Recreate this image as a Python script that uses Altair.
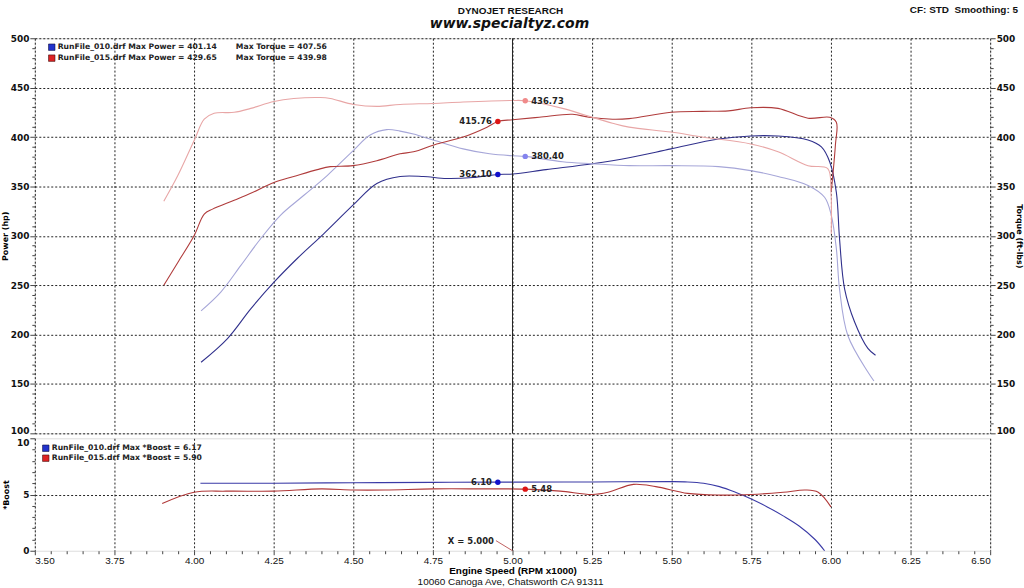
import altair as alt
import numpy as np
import pandas as pd

# ---------------- data (read from the dyno sheet) ----------------
# RunFile_010 power (hp)
p010_rpm = [4.022, 4.105, 4.178, 4.251, 4.324, 4.407, 4.499, 4.574, 4.647, 4.720, 4.793, 4.876,
            4.954, 5.000, 5.105, 5.251, 5.366, 5.498, 5.647, 5.748, 5.834, 5.928, 5.970, 5.996,
            6.017, 6.027, 6.043, 6.074, 6.116, 6.140]
p010_val = [172, 196, 226, 253, 277, 302, 331, 353, 360, 360, 358, 359,
            362.1, 362.5, 367, 373, 379, 388, 398, 401.1, 401, 397, 390, 375,
            344, 297, 246, 213, 186, 179]
# RunFile_010 torque (ft-lbs)
t010_rpm = [4.022, 4.084, 4.147, 4.209, 4.272, 4.345, 4.418, 4.499, 4.553, 4.605, 4.647, 4.689,
            4.751, 4.845, 4.928, 5.000, 5.040, 5.157, 5.251, 5.366, 5.498, 5.647, 5.748, 5.834,
            5.928, 5.980, 6.001, 6.017, 6.027, 6.053, 6.116, 6.135]
t010_val = [224, 243, 270, 297, 321, 341, 361, 386, 402, 407.5, 406, 403,
            397, 388, 383, 381, 380.4, 375, 373, 371, 371, 370, 366, 360,
            351, 339, 321, 287, 246, 199, 162, 153]
# RunFile_015 power (hp)
p015_rpm = [3.905, 3.949, 4.000, 4.032, 4.058, 4.126, 4.178, 4.251, 4.313, 4.387, 4.428, 4.499,
            4.574, 4.647, 4.689, 4.762, 4.845, 4.920, 4.954, 5.000, 5.084, 5.188, 5.240, 5.314,
            5.366, 5.498, 5.595, 5.678, 5.748, 5.834, 5.928, 5.996, 6.017, 6.014, 6.001]
p015_val = [250, 273, 300, 322, 327, 336, 343, 354, 360, 367, 370, 371,
            376, 383, 385, 393, 400, 410, 415.8, 417.5, 420, 423, 420, 418,
            418.6, 425, 426, 426.5, 429.6, 429, 419, 420, 415, 392, 345]
# RunFile_015 torque (ft-lbs)
t015_rpm = [3.905, 3.949, 4.001, 4.032, 4.063, 4.126, 4.178, 4.251, 4.313, 4.397, 4.428, 4.501,
            4.574, 4.647, 4.751, 4.845, 5.000, 5.040, 5.157, 5.230, 5.314, 5.366, 5.498, 5.595,
            5.748, 5.834, 5.928, 5.990, 6.000, 6.001]
t015_val = [335, 361, 397, 418, 424, 425, 429, 436, 439, 440, 439, 433,
            431, 433, 434, 435.5, 437, 436.7, 429, 422, 414, 410, 405, 400,
            393, 385, 371, 368, 345, 302]
# Boost
b010_rpm = [4.02, 4.25, 4.50, 4.75, 4.95, 5.00, 5.25, 5.50, 5.55, 5.60, 5.65, 5.70, 5.75,
            5.80, 5.85, 5.90, 5.95, 5.98]
b010_val = [6.0, 6.0, 6.05, 6.08, 6.10, 6.10, 6.12, 6.15, 6.12, 6.0, 5.7, 5.2, 4.6,
            3.9, 3.1, 2.2, 1.0, 0.0]
b015_rpm = [3.90, 4.00, 4.10, 4.25, 4.40, 4.50, 4.60, 4.75, 4.90, 5.04, 5.15, 5.25, 5.30,
            5.38, 5.45, 5.55, 5.65, 5.75, 5.85, 5.92, 5.96, 6.00]
b015_val = [4.2, 5.2, 5.3, 5.3, 5.5, 5.4, 5.4, 5.5, 5.5, 5.48, 5.3, 5.0, 5.2,
            5.9, 5.7, 5.1, 4.95, 5.0, 5.2, 5.4, 5.2, 3.9]

series_names = ["P010", "T010", "P015", "T015"]
series_colors = ["#30308c", "#a6a6d8", "#b03c3c", "#e8a6a6"]

# cursor read-outs at the two cursor positions
mk_rpm = [4.954, 5.040, 4.954, 5.040]
mk_val = [362.10, 380.40, 415.76, 436.73]
mk_txt = ["362.10", "380.40", "415.76", "436.73"]
mk_col = ["#1010cc", "#8484ee", "#dd1515", "#f08a8a"]
mk_side = ["left", "right", "left", "right"]

bmk_rpm = [4.954, 5.040]
bmk_val = [6.10, 5.48]
bmk_txt = ["6.10", "5.48"]
bmk_col = ["#1010cc", "#dd1515"]
bmk_side = ["left", "right"]

x_major = [3.50, 3.75, 4.00, 4.25, 4.50, 4.75, 5.00, 5.25, 5.50, 5.75, 6.00, 6.25, 6.50]
x_all = [round(v, 2) for v in np.arange(3.50, 6.5001, 0.05)]
hp_ticks = list(range(100, 501, 10))
boost_ticks = list(range(0, 11, 1))
cursor_x = 5.0

# ---------------- frames ----------------
rows = []
for name, r, v in [("P010", p010_rpm, p010_val), ("T010", t010_rpm, t010_val),
                   ("P015", p015_rpm, p015_val), ("T015", t015_rpm, t015_val)]:
    for i, (a, b) in enumerate(zip(r, v)):
        rows.append({"series": name, "rpm": a, "val": b, "order": i})
top_df = pd.DataFrame(rows)
torque_df = top_df[top_df.series.isin(["T010", "T015"])]

brow = []
for name, r, v in [("B010", b010_rpm, b010_val), ("B015", b015_rpm, b015_val)]:
    for i, (a, b) in enumerate(zip(r, v)):
        brow.append({"series": name, "rpm": a, "val": b, "order": i})
boost_df = pd.DataFrame(brow)

mk_df = pd.DataFrame({"rpm": mk_rpm, "val": mk_val, "txt": mk_txt, "col": mk_col, "side": mk_side})
bmk_df = pd.DataFrame({"rpm": bmk_rpm, "val": bmk_val, "txt": bmk_txt, "col": bmk_col, "side": bmk_side})
cur_df = pd.DataFrame({"rpm": [cursor_x]})

BOLD = "DejaVu Sans"
NARROW = "Liberation Sans Narrow, Liberation Sans, Arial Narrow, sans-serif"
GRID = dict(grid=True, gridDash=[2, 2], gridColor="#222222", gridWidth=1)

W = 960
H_TOP = 397
H_BOT = 113

xscale = alt.Scale(domain=[3.5, 6.5], nice=False, zero=False)

x_top = alt.X("rpm:Q", scale=xscale,
              axis=alt.Axis(values=x_major, labels=False, ticks=False, domain=False, title=None, **GRID))

major_x = "abs(datum.value*4 - round(datum.value*4)) < 0.01"
x_bot = alt.X("rpm:Q", scale=xscale,
              axis=alt.Axis(values=x_all, domain=False,
                            labelExpr=f"{major_x} ? format(datum.value, '.2f') : ''",
                            labelFont=NARROW, labelFontSize=10, labelColor="#111", labelPadding=1,
                            labelOverlap=False,
                            tickColor="#444",
                            tickSize={"condition": {"test": major_x, "value": 4}, "value": 3},
                            gridOpacity={"condition": {"test": major_x, "value": 1}, "value": 0},
                            title="Engine Speed (RPM x1000)", titleFont=NARROW, titleFontSize=10,
                            titleFontWeight="bold", titlePadding=0, **GRID))

hp_axis_common = dict(values=hp_ticks, domain=False,
                      labelExpr="datum.value % 50 == 0 ? datum.label : ''",
                      labelFont=BOLD, labelFontSize=9, labelFontWeight="bold", labelColor="#111",
                      labelPadding=1, labelOverlap=False, tickColor="#444",
                      labelBaseline={"condition": {"test": "datum.value == 100", "value": "alphabetic"},
                                     "value": "middle"},
                      tickSize={"condition": {"test": "datum.value % 50 == 0", "value": 5}, "value": 3},
                      titleFont=BOLD, titleFontSize=8, titleFontWeight="bold")

y_left = alt.Y("val:Q", scale=alt.Scale(domain=[100, 500], nice=False, zero=False),
               axis=alt.Axis(title="Power (hp)", titlePadding=1,
                             gridOpacity={"condition": {"test": "datum.value % 50 == 0", "value": 1}, "value": 0},
                             **hp_axis_common, **GRID))
y_right = alt.Y("val:Q", scale=alt.Scale(domain=[100, 500], nice=False, zero=False),
                axis=alt.Axis(title="Torque (ft-lbs)", orient="right", titleAngle=90, titlePadding=0,
                              grid=False, **hp_axis_common))

color = alt.Color("series:N", scale=alt.Scale(domain=series_names, range=series_colors), legend=None)

lines = alt.Chart(top_df).mark_line(strokeWidth=1.1, interpolate="catmull-rom").encode(
    x=x_top, y=y_left, color=color, order="order:Q", detail="series:N")
cursor_top = alt.Chart(cur_df).mark_rule(color="#222222", strokeWidth=1).encode(x=x_top)
marks = alt.Chart(mk_df).mark_circle(size=30, opacity=1).encode(
    x=x_top, y=y_left, color=alt.Color("col:N", scale=None))
lab_l = alt.Chart(mk_df[mk_df.side == "left"]).mark_text(
    align="right", dx=-6, font=BOLD, fontSize=8.5, fontWeight="bold", color="#222").encode(
    x=x_top, y=y_left, text="txt:N")
lab_r = alt.Chart(mk_df[mk_df.side == "right"]).mark_text(
    align="left", dx=6, font=BOLD, fontSize=8.5, fontWeight="bold", color="#222").encode(
    x=x_top, y=y_left, text="txt:N")

# legend text box
leg_rows = pd.DataFrame({
    "a": ["RunFile_010.drf Max Power = 401.14", "RunFile_015.drf Max Power = 429.65"],
    "b": ["Max Torque = 407.56", "Max Torque = 439.98"],
    "c": ["#2233cc", "#dd2222"],
})
leg_sq1 = alt.Chart(leg_rows.iloc[[0]]).mark_square(size=42, opacity=1, stroke="#111144", strokeWidth=0.6).encode(
    x=alt.value(17), y=alt.value(9), color=alt.Color("c:N", scale=None))
leg_sq2 = alt.Chart(leg_rows.iloc[[1]]).mark_square(size=42, opacity=1, stroke="#441111", strokeWidth=0.6).encode(
    x=alt.value(17), y=alt.value(20), color=alt.Color("c:N", scale=None))
legtxt = dict(align="left", baseline="middle", font=BOLD, fontSize=7.7, fontWeight="bold", color="#222")
leg_t1 = alt.Chart(leg_rows.iloc[[0]]).mark_text(**legtxt).encode(x=alt.value(23), y=alt.value(9), text="a:N")
leg_t2 = alt.Chart(leg_rows.iloc[[1]]).mark_text(**legtxt).encode(x=alt.value(23), y=alt.value(20), text="a:N")
leg_t3 = alt.Chart(leg_rows.iloc[[0]]).mark_text(**legtxt).encode(x=alt.value(202), y=alt.value(9), text="b:N")
leg_t4 = alt.Chart(leg_rows.iloc[[1]]).mark_text(**legtxt).encode(x=alt.value(202), y=alt.value(20), text="b:N")

# header texts
hdr = pd.DataFrame({"t1": ["DYNOJET RESEARCH"], "t2": ["www.specialtyz.com"],
                    "t3": ["CF: STD\u00a0\u00a0Smoothing: 5"]})
h1 = alt.Chart(hdr).mark_text(font=NARROW, fontSize=10, fontWeight="bold", color="#111").encode(
    x=alt.value(W / 2 - 2), y=alt.value(-27), text="t1:N")
h2 = alt.Chart(hdr).mark_text(font=BOLD, fontSize=14, fontWeight="bold", fontStyle="italic", color="#111").encode(
    x=alt.value(W / 2 - 3), y=alt.value(-14), text="t2:N")
h3 = alt.Chart(hdr).mark_text(font=NARROW, fontSize=10, fontWeight="bold", color="#111", align="right").encode(
    x=alt.value(W + 28), y=alt.value(-28), text="t3:N")

right_axis = alt.Chart(torque_df).mark_point(opacity=0).encode(x=x_top, y=y_right)

top = alt.layer(
    alt.layer(lines, cursor_top, marks, lab_l, lab_r, leg_sq1, leg_sq2, leg_t1, leg_t2, leg_t3, leg_t4, h1, h2, h3),
    right_axis,
).resolve_scale(y="independent").properties(width=W, height=H_TOP)

# ---------------- bottom (boost) panel ----------------
y_boost = alt.Y("val:Q", scale=alt.Scale(domain=[0, 10], nice=False, zero=False),
                axis=alt.Axis(values=boost_ticks, domain=False, title="*Boost", titlePadding=6,
                              labelExpr="datum.value % 5 == 0 ? datum.label : ''",
                              labelFont=BOLD, labelFontSize=9, labelFontWeight="bold", labelColor="#111",
                              labelPadding=1, labelOverlap=False, tickColor="#444",
                              labelBaseline={"condition": {"test": "datum.value == 10", "value": "top"},
                                             "value": "middle"},
                              tickSize={"condition": {"test": "datum.value % 5 == 0", "value": 5}, "value": 3},
                              gridOpacity={"condition": {"test": "datum.value == 5", "value": 1}, "value": 0},
                              titleFont=BOLD, titleFontSize=8, titleFontWeight="bold", **GRID))
bcolor = alt.Color("series:N", scale=alt.Scale(domain=["B010", "B015"], range=["#3a3aa6", "#b03838"]), legend=None)
blines = alt.Chart(boost_df).mark_line(strokeWidth=1.1, interpolate="catmull-rom").encode(
    x=x_bot, y=y_boost, color=bcolor, order="order:Q", detail="series:N")
cursor_bot = alt.Chart(cur_df).mark_rule(color="#222222", strokeWidth=1).encode(x=x_bot)
bmarks = alt.Chart(bmk_df).mark_circle(size=30, opacity=1).encode(
    x=x_bot, y=y_boost, color=alt.Color("col:N", scale=None))
blab_l = alt.Chart(bmk_df[bmk_df.side == "left"]).mark_text(
    align="right", dx=-6, font=BOLD, fontSize=8.5, fontWeight="bold", color="#222").encode(
    x=x_bot, y=y_boost, text="txt:N")
blab_r = alt.Chart(bmk_df[bmk_df.side == "right"]).mark_text(
    align="left", dx=6, font=BOLD, fontSize=8.5, fontWeight="bold", color="#222").encode(
    x=x_bot, y=y_boost, text="txt:N")

bleg = pd.DataFrame({
    "a": ["RunFile_010.drf Max *Boost = 6.17", "RunFile_015.drf Max *Boost = 5.90"],
    "c": ["#2233cc", "#dd2222"],
})
bsq1 = alt.Chart(bleg.iloc[[0]]).mark_square(size=42, opacity=1, stroke="#111144", strokeWidth=0.6).encode(
    x=alt.value(11), y=alt.value(10), color=alt.Color("c:N", scale=None))
bsq2 = alt.Chart(bleg.iloc[[1]]).mark_square(size=42, opacity=1, stroke="#441111", strokeWidth=0.6).encode(
    x=alt.value(11), y=alt.value(20), color=alt.Color("c:N", scale=None))
bt1 = alt.Chart(bleg.iloc[[0]]).mark_text(**legtxt).encode(x=alt.value(17), y=alt.value(10), text="a:N")
bt2 = alt.Chart(bleg.iloc[[1]]).mark_text(**legtxt).encode(x=alt.value(17), y=alt.value(20), text="a:N")

# cursor position read-out
xr = pd.DataFrame({"rpm": [cursor_x - 0.052], "rpm2": [cursor_x], "val": [0.9], "val2": [0.0],
                   "t": ["X = 5.000"]})
xr_line = alt.Chart(xr).mark_rule(color="#c06060", strokeWidth=1).encode(
    x=x_bot, x2="rpm2:Q", y=y_boost, y2="val2:Q")
xr_text = alt.Chart(xr).mark_text(align="right", dx=-2, font=BOLD, fontSize=8.5, fontWeight="bold",
                                  color="#222").encode(x=x_bot, y=y_boost, text="t:N")

addr = pd.DataFrame({"t": ["10060 Canoga Ave, Chatsworth CA 91311"]})
addr_t = alt.Chart(addr).mark_text(font=NARROW, fontSize=10, color="#111").encode(
    x=alt.value(W / 2 - 2), y=alt.value(H_BOT + 31), text="t:N")

bottom = alt.layer(blines, cursor_bot, bmarks, blab_l, blab_r, bsq1, bsq2, bt1, bt2,
                   xr_line, xr_text, addr_t).properties(width=W, height=H_BOT)

chart = alt.vconcat(top, bottom, spacing=5, bounds="flush").resolve_scale(color="independent").properties(
    padding={"left": 0, "top": 3, "right": 0, "bottom": 0}
).configure_view(
    stroke="#7a7a7a", strokeWidth=2, cornerRadius=7, fill="white"
).configure(background="white")

chart.save("out.html", embed_options={"renderer": "svg", "actions": False})
